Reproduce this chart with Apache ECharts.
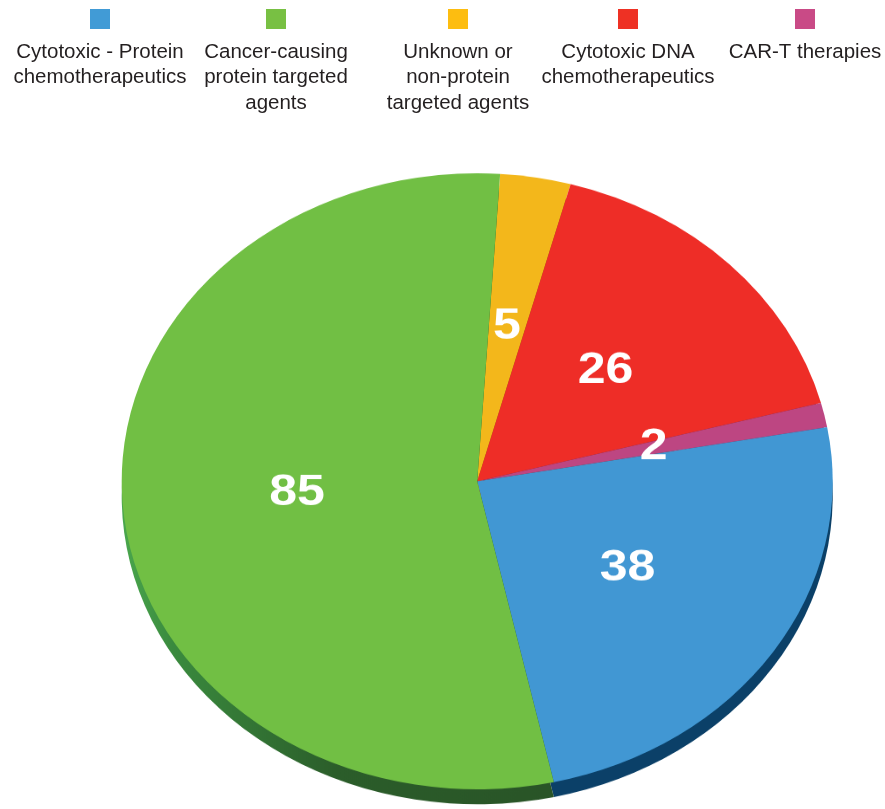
<!DOCTYPE html>
<html><head><meta charset="utf-8">
<script src="https://cdn.jsdelivr.net/npm/echarts@6/dist/echarts.min.js"></script>
<style>
html,body{margin:0;padding:0;background:#fff;width:885px;height:809px;overflow:hidden;}
#pie{position:absolute;left:0;top:0;width:885px;height:934px;transform:scaleY(0.8664);transform-origin:0 0;}
#legend{position:absolute;left:0;top:0;width:885px;height:130px;}
</style></head><body>
<div id="pie"></div><div id="legend"></div>
<script>
// ---- data ----
const categories = [
  'Cytotoxic - Protein chemotherapeutics',
  'Cancer-causing protein targeted agents',
  'Unknown or non-protein targeted agents',
  'Cytotoxic DNA chemotherapeutics',
  'CAR-T therapies'
];
const legendLines = [
  ['Cytotoxic - Protein', 'chemotherapeutics'],
  ['Cancer-causing', 'protein targeted', 'agents'],
  ['Unknown or', 'non-protein', 'targeted agents'],
  ['Cytotoxic DNA', 'chemotherapeutics'],
  ['CAR-T therapies']
];
const values = [38, 85, 5, 26, 2];
// clockwise drawing order starting near 12 o'clock
const sliceOrder = [2, 3, 4, 0, 1];

// ---- styles ----
const faceColors = ['#4197d3', '#71bf44', '#f3b71b', '#ee2d27', '#bd4682'];
const legendColors = ['#419bd6', '#78c043', '#fdbd10', '#ee3124', '#c94a86'];
const rimColors = [
  '#0b4068',
  {type:'linear', x:0, y:0, x2:1, y2:0, colorStops:[
    {offset:0, color:'#4aa74d'},{offset:0.12, color:'#3a8a3e'},{offset:0.5, color:'#2b5d2a'},{offset:1, color:'#295427'}]},
  '#8a6a10', '#8a1a17', '#6e2849'
];
const legendCenters = [100, 276, 458, 628, 805];

// ---- legend chart ----
const legendChart = echarts.init(document.getElementById('legend'), null, {renderer:'canvas'});
const legends = categories.map((name, i) => ({
  data: [name],
  left: legendCenters[i] - 100,
  top: 9,
  padding: 0,
  itemWidth: 0,
  itemHeight: 0,
  selectedMode: false,
  formatter: () => ['{sq|}'].concat(legendLines[i].map(l => '{t|' + l + '}')).join('\n'),
  textStyle: {
    width: 190,
    rich: {
      sq: {width:20, height:20, lineHeight:41, backgroundColor: legendColors[i], align:'center'},
      t: {fontSize:20.5, lineHeight:25.5, color:'#231f20', fontFamily:'"Liberation Sans", Arial, sans-serif', align:'center'}
    }
  }
}));
legendChart.setOption({
  animation: false,
  legend: legends,
  series: [{
    type: 'pie', radius: 0, center: [-50, -50], silent: true,
    label: {show:false}, labelLine: {show:false},
    data: sliceOrder.map(i => ({name: categories[i], value: values[i], itemStyle:{color: faceColors[i]}}))
  }]
});

// ---- pie chart (vertically squashed into an ellipse) ----
const pieChart = echarts.init(document.getElementById('pie'), null, {renderer:'canvas'});
const cx = 477.2, cy = 555.5, R = 355.5, depth = 17.3;
pieChart.setOption({
  animation: false,
  series: [
    {
      type: 'pie', name: 'rim', center: [cx, cy + depth], radius: R,
      startAngle: 86.3, clockwise: true, silent: true,
      label: {show:false}, labelLine: {show:false},
      itemStyle: {borderWidth:0},
      data: sliceOrder.map(i => ({name: categories[i], value: values[i], itemStyle:{color: rimColors[i]}}))
    },
    {
      type: 'pie', name: 'face', center: [cx, cy], radius: R,
      startAngle: 86.3, clockwise: true, silent: true,
      itemStyle: {borderWidth:0},
      label: {
        show: true, position: 'inside', formatter: '{c}',
        color: '#ffffff', fontWeight: 'bold', fontSize: 50,
        fontFamily: '"Liberation Sans", Arial, sans-serif'
      },
      labelLine: {show:false},
      data: sliceOrder.map(i => ({name: categories[i], value: values[i], itemStyle:{color: faceColors[i]}}))
    }
  ]
});
</script>
</body></html>
